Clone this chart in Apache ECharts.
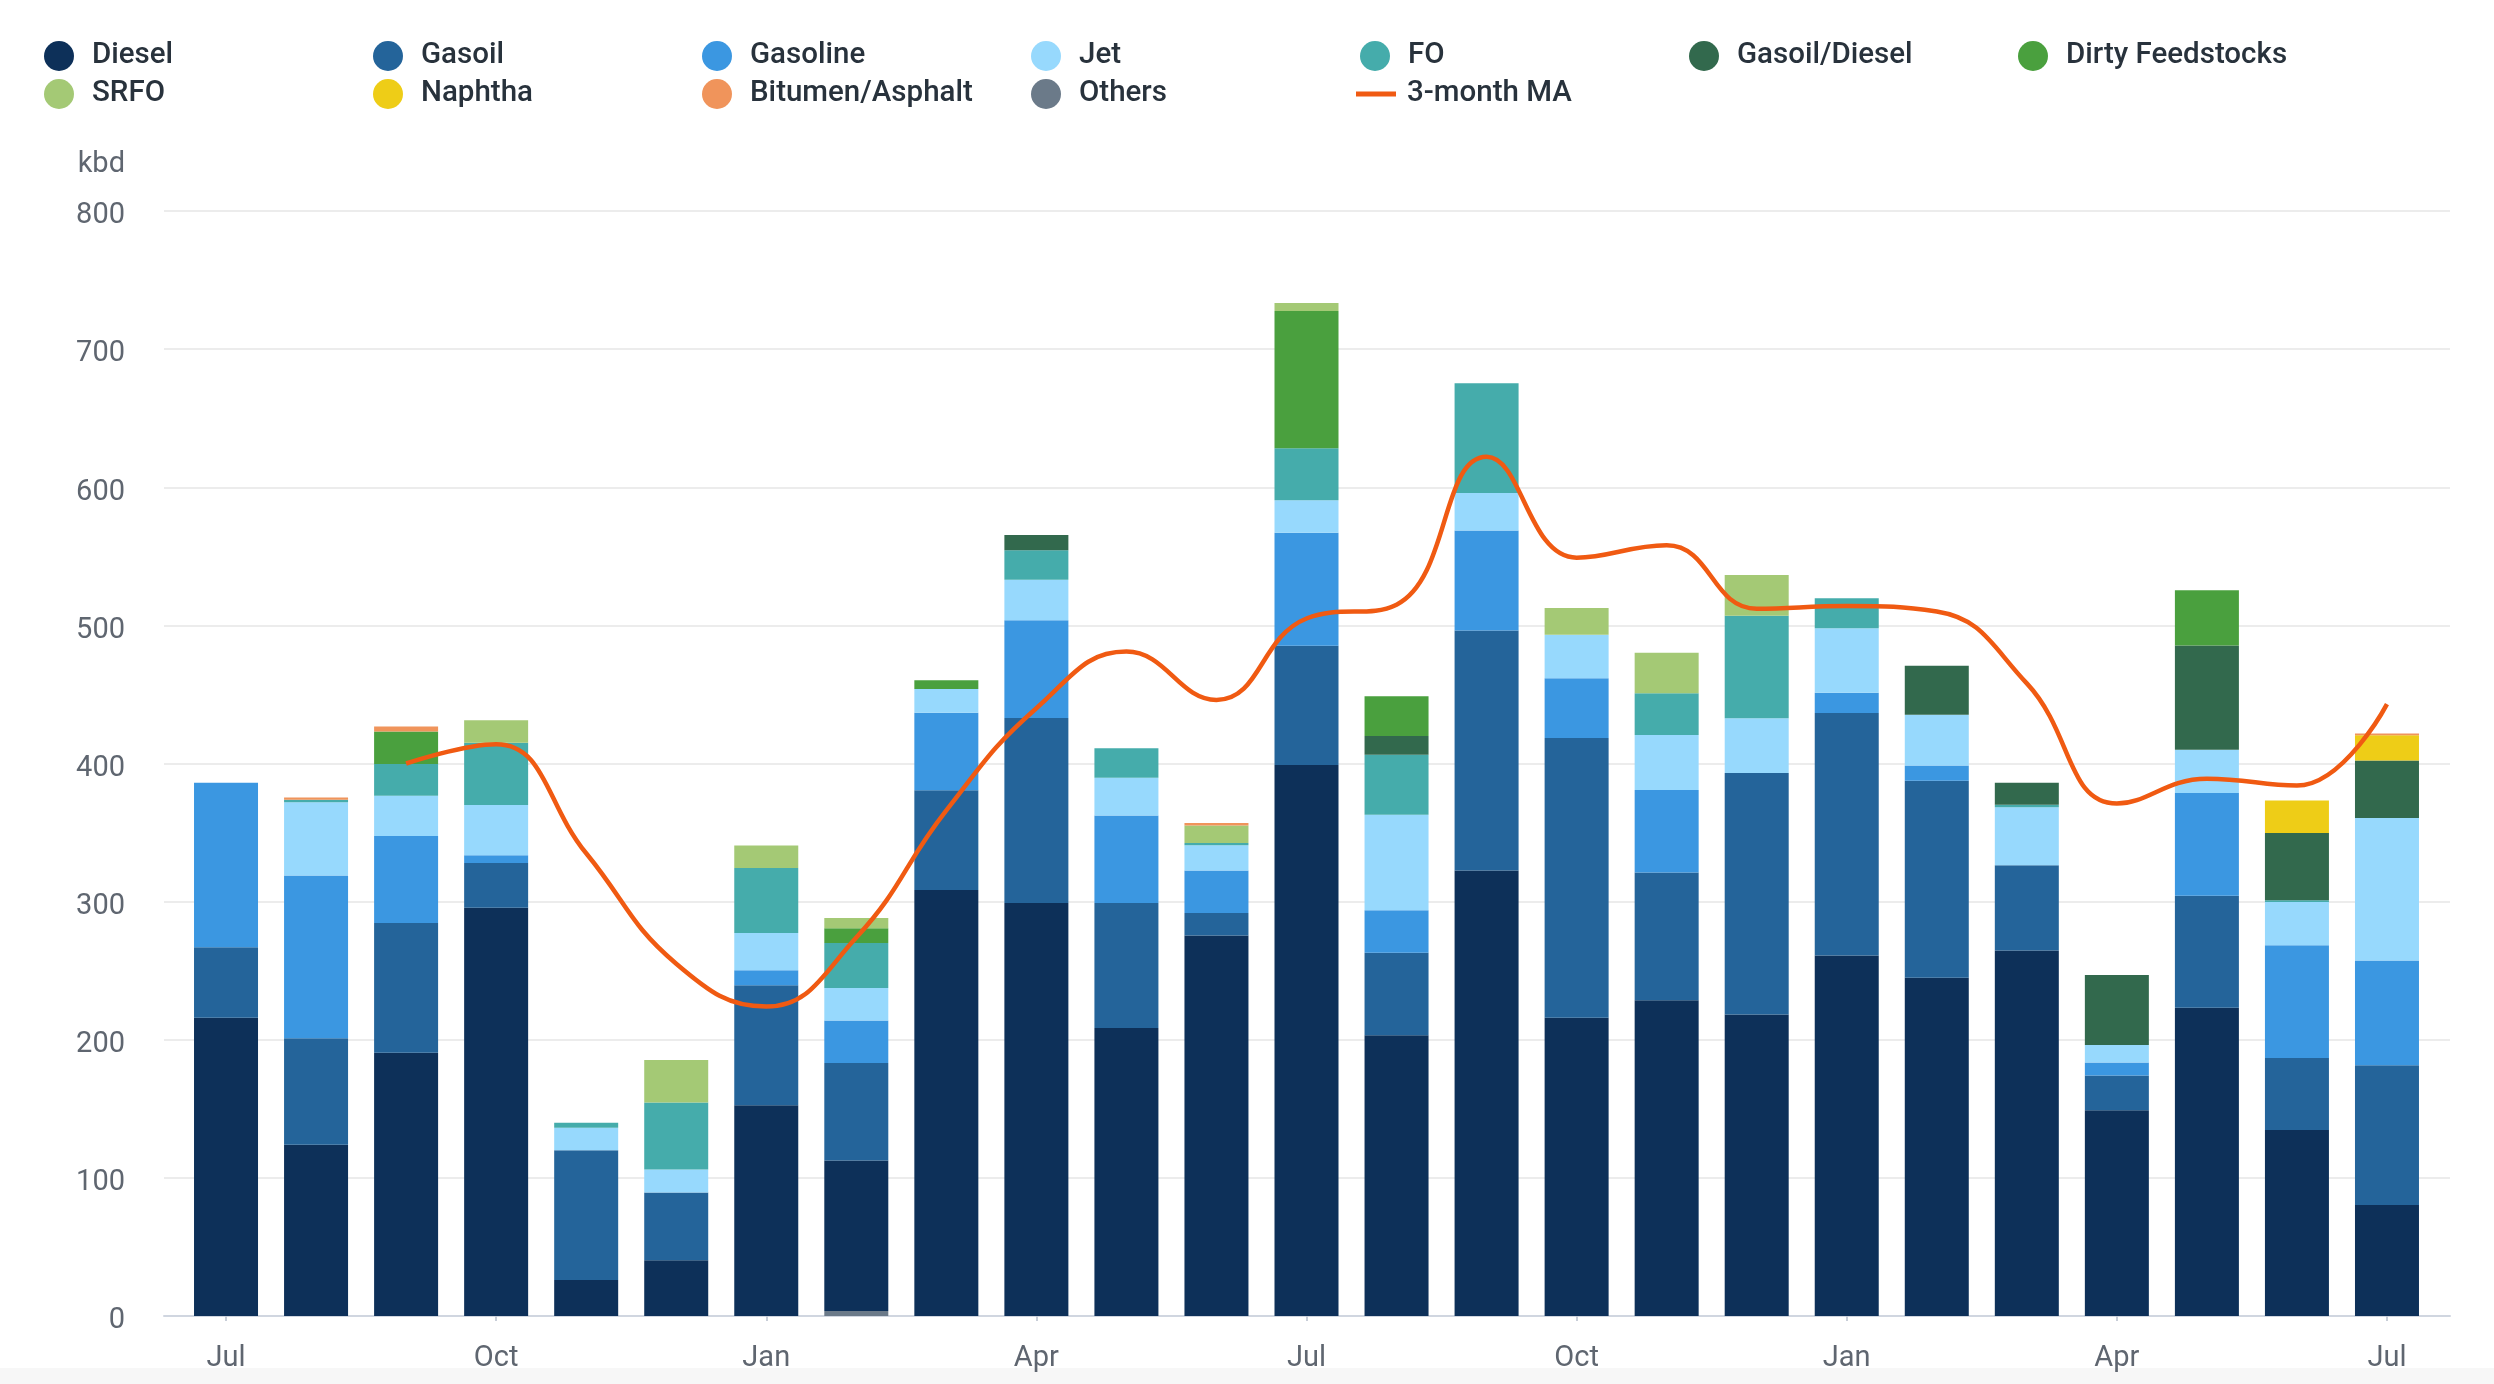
<!DOCTYPE html>
<html>
<head>
<meta charset="utf-8">
<script src="https://cdn.jsdelivr.net/npm/echarts@6/dist/echarts.min.js"></script>
<style>
html,body{margin:0;padding:0;background:#fff;}
#c{width:2494px;height:1384px;}
</style>
</head>
<body>
<div id="c"></div>
<script>
// ---- Data (kbd), months Jul (yr1) .. Jul (yr3) ----
const months = ["Jul","Aug","Sep","Oct","Nov","Dec","Jan","Feb","Mar","Apr","May","Jun","Jul","Aug","Sep","Oct","Nov","Dec","Jan","Feb","Mar","Apr","May","Jun","Jul"];
const tickIndices = [0,3,6,9,12,15,18,21,24];
const yTicks = [0,100,200,300,400,500,600,700,800];

const diesel       = [216,124,190.6,295.5,26,40.4,152.6,109,308.5,299,208.5,275.5,399,203.3,322.6,215.9,228.6,218.2,261,244.8,264.7,148.9,223.1,134.6,80.4];
const gasoil       = [51,77,94,32.5,94,49,86.8,70.6,72.2,134,90.5,16.2,86.3,59.7,173.7,202.5,92.5,175,175.5,142.7,61.6,25.3,81.2,52.2,101.1];
const gasoline     = [119,118,63,5.5,0,0,10.9,30.7,56,70.7,63.4,30.9,81.7,30.8,72.3,43.4,59.7,0,14.7,11.1,0,9.4,74.3,81.6,75.9];
const jet          = [0,53,29,36.5,16.3,16.6,27,23.5,17.3,29.3,27.2,18.3,23.5,69.1,27.2,31.4,39.8,39.6,46.8,36.7,42.1,12.6,31.4,31.4,103.2];
const fo           = [0,1.7,23,45,3.7,48.5,47,32.6,0,21.4,21.4,1.5,37.7,43.4,79.5,0,30.3,74.2,21.7,0,1.7,0,0,1.2,0];
const gasoilDiesel = [0,0,0,0,0,0,0,0,0,11,0,0,0,13.7,0,0,0,0,0,35.5,15.9,50.6,75.4,48.6,41.6];
const dirty        = [0,0,23.6,0,0,0,0,10.8,6.2,0,0,0,99.4,28.7,0,0,0,0,0,0,0,0,40,0,0];
const srfo         = [0,0,0,16.3,0,30.8,16.3,7.3,0,0,0,12.8,5.8,0,0,19.4,29.3,29.4,0,0,0,0,0,0,0];
const naphtha      = [0,0,0,0,0,0,0,0,0,0,0,0,0,0,0,0,0,0,0,0,0,0,0,23.7,18.3];
const bitumen      = [0,1.7,3.6,0,0,0,0,0,0,0,0,1.7,0,0,0,0,0,0,0,0,0,0,0,0,1.2];
const others       = [0,0,0,0,0,0,0,3.6,0,0,0,0,0,0,0,0,0,0,0,0,0,0,0,0,0];
const ma3          = [null,null,400,414,335,255,224,274,366,440,481,446,505,515,622,549,558,512,514,510,458,371,389,384,443];

const barDefs = [
  {name:"Others", data:others, color:"#6b7a89"},
  {name:"Diesel", data:diesel, color:"#0d3059"},
  {name:"Gasoil", data:gasoil, color:"#24649a"},
  {name:"Gasoline", data:gasoline, color:"#3b97e1"},
  {name:"Jet", data:jet, color:"#97d9fd"},
  {name:"FO", data:fo, color:"#45acab"},
  {name:"Gasoil/Diesel", data:gasoilDiesel, color:"#32694d"},
  {name:"Dirty Feedstocks", data:dirty, color:"#4aa03e"},
  {name:"SRFO", data:srfo, color:"#a4c975"},
  {name:"Naphtha", data:naphtha, color:"#eecd17"},
  {name:"Bitumen/Asphalt", data:bitumen, color:"#f0945b"}
];
const maColor = "#f05a12";

const legendRows = [
  ["Diesel","Gasoil","Gasoline","Jet","FO","Gasoil/Diesel","Dirty Feedstocks"],
  ["SRFO","Naphtha","Bitumen/Asphalt","Others","3-month MA"]
];

const FONT = 'Roboto, "Noto Sans", sans-serif';
const isTick = (idx) => tickIndices.indexOf(idx) >= 0;

const series = barDefs.map(d => ({
  name: d.name,
  type: 'bar',
  stack: 'total',
  barWidth: 64,
  xAxisIndex: 1,
  yAxisIndex: 1,
  itemStyle: {color: d.color},
  emphasis: {disabled: true},
  data: d.data.slice()
}));
series.push({
  name: "3-month MA",
  type: 'line',
  smooth: 0.45,
  symbol: 'none',
  xAxisIndex: 1,
  yAxisIndex: 1,
  z: 5,
  connectNulls: false,
  lineStyle: {color: maColor, width: 4.5},
  itemStyle: {color: maColor},
  data: ma3.map(v => v === null ? '-' : v)
});

const legends = [];
legendRows.forEach((row, r) => {
  row.forEach((name, c) => {
    const isLine = name === "3-month MA";
    legends.push({
      data: [name],
      left: 44 + 329 * c + (isLine ? -4 : 0),
      top: (r === 0 ? 56 : 94) - 15,
      padding: 0,
      itemGap: 0,
      icon: isLine ? 'rect' : 'circle',
      itemWidth: isLine ? 40 : 30,
      itemHeight: isLine ? 5 : 30,
      selectedMode: false,
      textStyle: {fontFamily: FONT, fontSize: 29.5, fontWeight: 500, color: '#28323c', padding: [0,0,0, isLine ? 6 : 13]}
    });
  });
});

const chart = echarts.init(document.getElementById('c'));
chart.setOption({
  animation: false,
  backgroundColor: '#ffffff',
  legend: legends,
  grid: [
    {left: 164, right: 44, top: 211, bottom: 68, containLabel: false},
    {left: 181, right: 62, top: 211, bottom: 68, containLabel: false}
  ],
  xAxis: [
    {
      type: 'value', gridIndex: 0, min: 0, max: 1,
      splitLine: {show: false},
      axisTick: {show: false},
      axisLabel: {show: false},
      axisLine: {show: true, lineStyle: {color: '#d0d6e0', width: 2}}
    },
    {
      type: 'category', gridIndex: 1, data: months,
      axisLine: {show: false},
      axisTick: {show: true, alignWithLabel: true, interval: isTick, length: 5, lineStyle: {color: '#c8ced8', width: 2}},
      axisLabel: {
        interval: isTick,
        fontFamily: FONT, fontSize: 29, color: '#5f6670', margin: 28
      }
    }
  ],
  yAxis: [
    {
      type: 'value', gridIndex: 0,
      min: yTicks[0],
      max: yTicks[yTicks.length - 1],
      interval: 100,
      axisLine: {show: false},
      axisTick: {show: false},
      splitLine: {lineStyle: {color: '#e6e6e6', width: 1.5}},
      axisLabel: {
        margin: 39,
        formatter: v => '{a|' + v + '}',
        rich: {a: {fontFamily: FONT, fontSize: 29, color: '#5f6670', padding: [10, 0, 0, 0]}}
      }
    },
    {
      type: 'value', gridIndex: 1,
      min: yTicks[0],
      max: yTicks[yTicks.length - 1],
      interval: 100,
      show: false,
      splitLine: {show: false}
    }
  ],
  graphic: [
    {
      type: 'rect', left: 0, top: 1368, silent: true, z: -10,
      shape: {width: 2494, height: 16},
      style: {fill: '#f7f7f7'}
    },
    {
      type: 'text', silent: true,
      style: {text: 'kbd', x: 125, y: 165, align: 'right', verticalAlign: 'middle', font: '29px Roboto, "Noto Sans", sans-serif', fill: '#5f6670'}
    }
  ],
  series: series
});
</script>
</body>
</html>
